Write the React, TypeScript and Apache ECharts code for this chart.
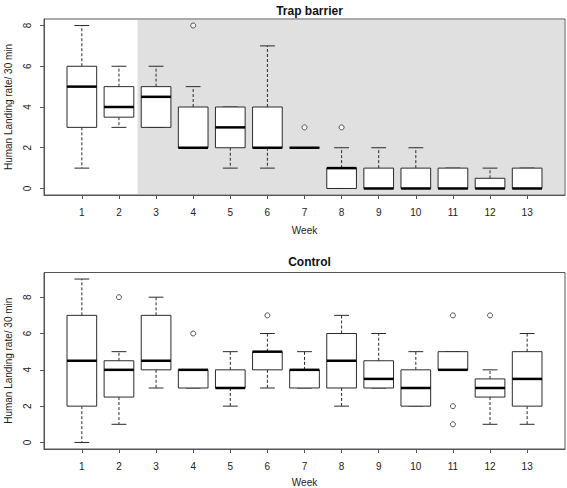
import React, { useEffect, useRef } from "react";
import * as echarts from "echarts";

const weeks = [1, 2, 3, 4, 5, 6, 7, 8, 9, 10, 11, 12, 13];
const yTicks = [0, 2, 4, 6, 8];

// [lower whisker, Q1, median, Q3, upper whisker]
const trapStats = [
  [1, 3, 5, 6, 8],
  [3, 3.5, 4, 5, 6],
  [3, 3, 4.5, 5, 6],
  [2, 2, 2, 4, 5],
  [1, 2, 3, 4, 4],
  [1, 2, 2, 4, 7],
  [2, 2, 2, 2, 2],
  [0, 0, 1, 1, 2],
  [0, 0, 0, 1, 2],
  [0, 0, 0, 1, 2],
  [0, 0, 0, 1, 1],
  [0, 0, 0, 0.5, 1],
  [0, 0, 0, 1, 1],
];
const trapOutliers = [
  [4, 8],
  [7, 3],
  [8, 3],
];

const controlStats = [
  [0, 2, 4.5, 7, 9],
  [1, 2.5, 4, 4.5, 5],
  [3, 4, 4.5, 7, 8],
  [3, 3, 4, 4, 4],
  [2, 3, 3, 4, 5],
  [3, 4, 5, 5, 6],
  [3, 3, 4, 4, 5],
  [2, 3, 4.5, 6, 7],
  [3, 3, 3.5, 4.5, 6],
  [2, 2, 3, 4, 5],
  [4, 4, 4, 5, 5],
  [1, 2.5, 3, 3.5, 4],
  [1, 2, 3.5, 5, 6],
];
const controlOutliers = [
  [2, 8],
  [4, 6],
  [6, 7],
  [11, 7],
  [11, 2],
  [11, 1],
  [12, 7],
];

const trapShadeFrom = 2.5;

const FONT = "Liberation Sans, Arial, sans-serif";
const LINE = "#2a2a2a";

const renderBox = (params: any, api: any) => {
  const x = api.value(0);
  const lo = api.value(1);
  const q1 = api.value(2);
  const med = api.value(3);
  const q3 = api.value(4);
  const hi = api.value(5);
  const half = 0.4;
  const cap = 0.2;
  const pL = api.coord([x - half, q3]);
  const pR = api.coord([x + half, q1]);
  const cx = api.coord([x, 0])[0];
  const capL = api.coord([x - cap, 0])[0];
  const capR = api.coord([x + cap, 0])[0];
  const yLo = api.coord([x, lo])[1];
  const yQ1 = api.coord([x, q1])[1];
  const yMed = api.coord([x, med])[1];
  const yQ3 = api.coord([x, q3])[1];
  const yHi = api.coord([x, hi])[1];
  const dashed = { stroke: LINE, lineWidth: 1, lineDash: [3, 2] };
  const solid = { stroke: LINE, lineWidth: 1 };
  const children: any[] = [
    { type: "line", shape: { x1: cx, y1: yQ1, x2: cx, y2: yLo }, style: dashed },
    { type: "line", shape: { x1: cx, y1: yQ3, x2: cx, y2: yHi }, style: dashed },
    { type: "line", shape: { x1: capL, y1: yLo, x2: capR, y2: yLo }, style: solid },
    { type: "line", shape: { x1: capL, y1: yHi, x2: capR, y2: yHi }, style: solid },
    {
      type: "rect",
      shape: { x: pL[0], y: pL[1], width: pR[0] - pL[0], height: pR[1] - pL[1] },
      style: { fill: "#ffffff", stroke: LINE, lineWidth: 1 },
    },
    {
      type: "line",
      shape: { x1: pL[0], y1: yMed, x2: pR[0], y2: yMed },
      style: { stroke: "#000", lineWidth: 2.5 },
    },
  ];
  return { type: "group", children };
};

const renderShade = (params: any, api: any) => {
  const cs = params.coordSys;
  const x0 = api.coord([api.value(0), 0])[0];
  return {
    type: "rect",
    shape: { x: x0, y: cs.y + 1, width: cs.x + cs.width - x0 - 1, height: cs.height - 2 },
    style: { fill: "#e0e0e0" },
  };
};

const boxData = (stats: number[][]) => weeks.map((w, i) => [w, ...stats[i]]);

const makeX = (gridIndex: number, nameGap: number) => ({
  type: "value",
  gridIndex,
  min: -0.02,
  max: 14.02,
  name: "Week",
  nameLocation: "middle",
  nameGap,
  nameTextStyle: { fontSize: 10, color: "#222", fontFamily: FONT },
  splitLine: { show: false },
  axisLine: { show: true, onZero: false, lineStyle: { color: "#555" } },
  axisTick: { show: true, length: 4, customValues: weeks, lineStyle: { color: "#555" } },
  axisLabel: { customValues: weeks, margin: 12, fontSize: 10, color: "#222", fontFamily: FONT },
});

const makeY = (gridIndex: number, min: number, max: number) => ({
  type: "value",
  gridIndex,
  min,
  max,
  name: "Human Landing rate/ 30 min",
  nameLocation: "middle",
  nameGap: 31,
  nameTextStyle: { fontSize: 10, color: "#222", fontFamily: FONT },
  splitLine: { show: false },
  axisLine: { show: true, onZero: false, lineStyle: { color: "#555" } },
  axisTick: { show: true, length: 4, customValues: yTicks, lineStyle: { color: "#555" } },
  axisLabel: {
    customValues: yTicks,
    rotate: 90,
    margin: 12,
    fontSize: 10,
    color: "#222",
    fontFamily: FONT,
  },
});

const gridBase = {
  left: 44,
  width: 521,
  show: true,
  borderColor: "#555",
  borderWidth: 1,
  backgroundColor: "transparent",
  containLabel: false,
  outerBoundsMode: "none",
};

export default function App() {
  const ref = useRef<HTMLDivElement>(null);
  useEffect(() => {
    if (!ref.current) return;
    const chart = echarts.init(ref.current, undefined, { renderer: "svg" });
    chart.setOption({
      animation: false,
      backgroundColor: "#ffffff",
      title: [
        {
          text: "Trap barrier",
          left: 304.5,
          top: 0,
          textAlign: "center",
          textStyle: { fontSize: 12, fontWeight: "bold", color: "#111", fontFamily: FONT },
        },
        {
          text: "Control",
          left: 304.5,
          top: 251,
          textAlign: "center",
          textStyle: { fontSize: 12, fontWeight: "bold", color: "#111", fontFamily: FONT },
        },
      ],
      grid: [
        { ...gridBase, top: 19, height: 176 },
        { ...gridBase, top: 272.5, height: 176.5 },
      ],
      xAxis: [makeX(0, 30), makeX(1, 28)],
      yAxis: [makeY(0, -0.32, 8.32), makeY(1, -0.36, 9.36)],
      series: [
        {
          type: "custom",
          xAxisIndex: 0,
          yAxisIndex: 0,
          z: 1,
          silent: true,
          renderItem: renderShade,
          data: [[trapShadeFrom]],
          encode: { x: 0 },
        },
        {
          type: "custom",
          name: "Trap barrier",
          xAxisIndex: 0,
          yAxisIndex: 0,
          z: 2,
          renderItem: renderBox,
          data: boxData(trapStats),
          encode: { x: 0, y: [1, 2, 3, 4, 5] },
        },
        {
          type: "scatter",
          xAxisIndex: 0,
          yAxisIndex: 0,
          z: 3,
          symbol: "circle",
          symbolSize: 5,
          itemStyle: { color: "#fff", borderColor: LINE, borderWidth: 1 },
          data: trapOutliers,
        },
        {
          type: "custom",
          name: "Control",
          xAxisIndex: 1,
          yAxisIndex: 1,
          z: 2,
          renderItem: renderBox,
          data: boxData(controlStats),
          encode: { x: 0, y: [1, 2, 3, 4, 5] },
        },
        {
          type: "scatter",
          xAxisIndex: 1,
          yAxisIndex: 1,
          z: 3,
          symbol: "circle",
          symbolSize: 5,
          itemStyle: { color: "#fff", borderColor: LINE, borderWidth: 1 },
          data: controlOutliers,
        },
      ],
    });
    return () => chart.dispose();
  }, []);
  return (
    <div
      ref={ref}
      style={{ position: "absolute", left: 0, top: 0, width: 567, height: 488 }}
    />
  );
}
